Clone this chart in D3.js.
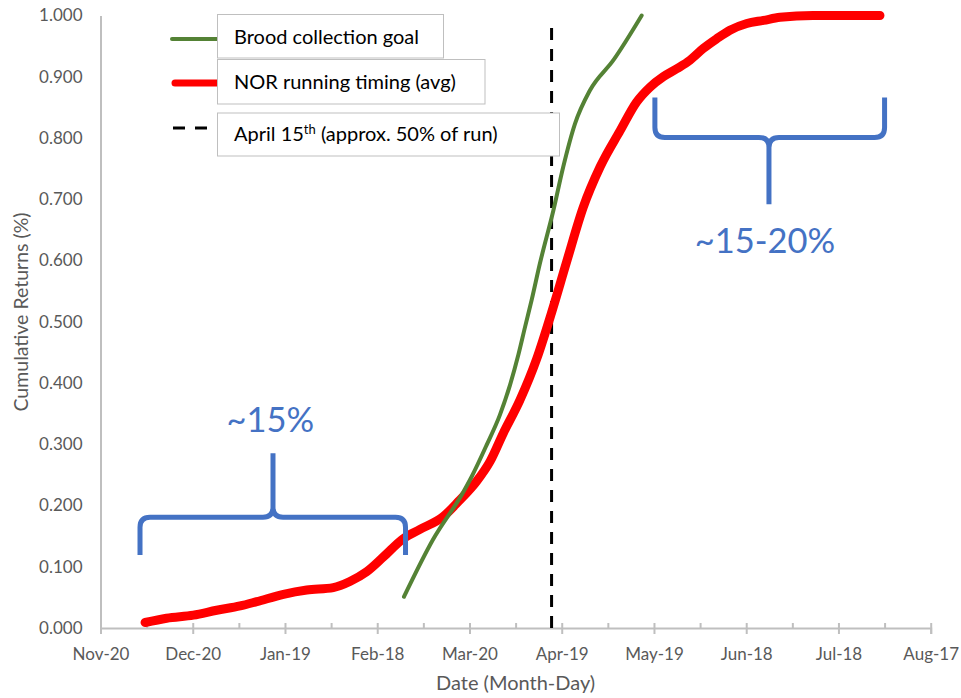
<!DOCTYPE html>
<html>
<head>
<meta charset="utf-8">
<script src="https://cdn.jsdelivr.net/npm/d3@7"></script>
<style>
  body { margin: 0; background: #fff; }
  text { font-family: Lato, "Open Sans", sans-serif; }
</style>
</head>
<body>
<div id="chart"></div>
<script>
// x values are days counted from Nov-20
var tickLabels = ["Nov-20", "Dec-20", "Jan-19", "Feb-18", "Mar-20", "Apr-19", "May-19", "Jun-18", "Jul-18", "Aug-17"];
var tickDays = [0, 30, 60, 90, 120, 150, 180, 210, 240, 270];
var minorDays = [15, 45, 75, 105, 135, 165, 195, 225, 255];
var yTicks = [0, 0.1, 0.2, 0.3, 0.4, 0.5, 0.6, 0.7, 0.8, 0.9, 1.0];

var norDays = [14.5, 21.5, 30.2, 37.8, 45.4, 50.8, 59.5, 67.1, 75.7, 81.1, 86.6, 92.0, 98.5, 103.9, 111.5, 116.5, 122.4, 126.7, 131.0, 136.4, 141.9, 146.7, 151.6, 157.0, 162.5, 169.0, 174.4, 178.7, 183.0, 187.4, 191.7, 196.0, 200.4, 204.7, 210.2, 215.6, 221.0, 231.7, 253.5];
var norValues = [0.009, 0.016, 0.021, 0.029, 0.036, 0.043, 0.055, 0.062, 0.066, 0.076, 0.092, 0.116, 0.146, 0.161, 0.182, 0.207, 0.240, 0.272, 0.318, 0.372, 0.440, 0.515, 0.598, 0.687, 0.753, 0.812, 0.859, 0.883, 0.900, 0.913, 0.927, 0.946, 0.962, 0.976, 0.987, 0.992, 0.997, 1.000, 1.000];

var broodDays = [98.7, 108.1, 118.0, 120.7, 125.6, 129.9, 133.2, 135.9, 138.1, 140.2, 142.9, 147.3, 150.5, 154.3, 159.2, 166.8, 176.0];
var broodValues = [0.051, 0.144, 0.222, 0.247, 0.299, 0.348, 0.397, 0.446, 0.492, 0.535, 0.595, 0.682, 0.753, 0.823, 0.878, 0.927, 1.000];

var aprilDay = 146.7;
var aprilRange = [0, 0.98];

var legendNames = ["Brood collection goal", "NOR running timing (avg)", "April 15"];

// brace annotations: span in days, end / bar / tip heights in returns
var braces = [
    { x0: 12.85, x1: 99.2, xm: 56.1, yEnd: 0.119, yBar: 0.181, yTip: 0.2855, label: "~15%", lx: 55.2, ly: 0.32 },
    { x0: 180.3, x1: 255.0, xm: 217.4, yEnd: 0.866, yBar: 0.801, yTip: 0.692, label: "~15-20%", lx: 216.1, ly: 0.613 }
];

var width = 961, height = 698;

var svg = d3.select("#chart")
    .append("svg")
    .attr("width", width)
    .attr("height", height)
    .style("background", "#fff");

var x = d3.scaleLinear().domain([0, 270]).range([100.5, 930.7]);
var y = d3.scaleLinear().domain([0, 1]).range([628, 15.5]);

var axisColor = "#bfbfbf";
var labelColor = "#595959";

// y axis
var yAxis = svg.append("g")
    .attr("transform", "translate(" + x(0) + ",0)")
    .call(d3.axisLeft(y).tickValues(yTicks).tickFormat(d3.format(".3f")).tickSize(0).tickPadding(18));
yAxis.select(".domain").attr("stroke", axisColor).attr("stroke-width", 2);
yAxis.selectAll("text")
    .attr("fill", labelColor)
    .style("font-size", "17px")
    .style("font-family", "Lato, sans-serif");

// x axis, major + minor ticks
var xAxis = svg.append("g")
    .attr("transform", "translate(0," + y(0) + ")")
    .call(d3.axisBottom(x).tickValues(tickDays).tickFormat(function (d, i) { return tickLabels[i]; }).tickSize(6));
xAxis.select(".domain").attr("stroke", axisColor).attr("stroke-width", 2);
xAxis.selectAll(".tick line").attr("y1", -5).attr("stroke", axisColor).attr("stroke-width", 2);
xAxis.selectAll("text")
    .attr("y", 32)
    .attr("dy", 0)
    .attr("fill", labelColor)
    .style("font-size", "17px")
    .style("font-family", "Lato, sans-serif");

var minorAxis = svg.append("g")
    .attr("transform", "translate(0," + y(0) + ")")
    .call(d3.axisBottom(x).tickValues(minorDays).tickFormat("").tickSize(-5));
minorAxis.select(".domain").remove();
minorAxis.selectAll(".tick line").attr("stroke", axisColor).attr("stroke-width", 2);

// axis titles
svg.append("text")
    .attr("x", (x(0) + x(270)) / 2)
    .attr("y", 690)
    .attr("text-anchor", "middle")
    .attr("fill", labelColor)
    .style("font-size", "20px")
    .text("Date (Month-Day)");

svg.append("text")
    .attr("transform", "translate(28,312) rotate(-90)")
    .attr("text-anchor", "middle")
    .attr("fill", labelColor)
    .style("font-size", "19.5px")
    .text("Cumulative Returns (%)");

// April 15th line
svg.append("line")
    .attr("x1", x(aprilDay)).attr("x2", x(aprilDay))
    .attr("y1", y(aprilRange[0])).attr("y2", y(aprilRange[1]))
    .attr("stroke", "#000")
    .attr("stroke-width", 3)
    .attr("stroke-dasharray", "12,9");

var line = d3.line()
    .x(function (d) { return x(d[0]); })
    .y(function (d) { return y(d[1]); })
    .curve(d3.curveMonotoneX);

svg.append("path")
    .datum(norDays.map(function (d, i) { return [d, norValues[i]]; }))
    .attr("d", line)
    .attr("fill", "none")
    .attr("stroke", "#ff0000")
    .attr("stroke-width", 9)
    .attr("stroke-linecap", "round")
    .attr("stroke-linejoin", "round");

svg.append("path")
    .datum(broodDays.map(function (d, i) { return [d, broodValues[i]]; }))
    .attr("d", line)
    .attr("fill", "none")
    .attr("stroke", "#548235")
    .attr("stroke-width", 4)
    .attr("stroke-linecap", "round");

// braces
var r = 10;
braces.forEach(function (b) {
    var x0 = x(b.x0), x1 = x(b.x1), xm = x(b.xm);
    var ye = y(b.yEnd), yb = y(b.yBar), yt = y(b.yTip);
    var s = ye > yb ? 1 : -1;
    var p = d3.path();
    p.moveTo(x0, ye);
    p.lineTo(x0, yb + s * r);
    p.quadraticCurveTo(x0, yb, x0 + r, yb);
    p.lineTo(xm - r, yb);
    p.quadraticCurveTo(xm, yb, xm, yb - s * r);
    p.lineTo(xm, yt);
    p.moveTo(xm, yb - s * r);
    p.quadraticCurveTo(xm, yb, xm + r, yb);
    p.lineTo(x1 - r, yb);
    p.quadraticCurveTo(x1, yb, x1, yb + s * r);
    p.lineTo(x1, ye);
    svg.append("path")
        .attr("d", p.toString())
        .attr("fill", "none")
        .attr("stroke", "#4472c4")
        .attr("stroke-width", 5);
    svg.append("text")
        .attr("x", x(b.lx))
        .attr("y", y(b.ly))
        .attr("text-anchor", "middle")
        .attr("fill", "#4472c4")
        .style("font-size", "34.5px")
        .text(b.label);
});

// legend
var legendBoxes = [
    { top: 14.5, h: 43.5, w: 226, base: 44 },
    { top: 59.5, h: 44.5, w: 267.5, base: 89 },
    { top: 113, h: 43, w: 342, base: 141 }
];
var legend = svg.append("g");
legend.append("line").attr("x1", 172).attr("x2", 217).attr("y1", 39).attr("y2", 39)
    .attr("stroke", "#548235").attr("stroke-width", 4).attr("stroke-linecap", "round");
legend.append("line").attr("x1", 175).attr("x2", 217).attr("y1", 83).attr("y2", 83)
    .attr("stroke", "#ff0000").attr("stroke-width", 7).attr("stroke-linecap", "round");
legend.append("line").attr("x1", 173).attr("x2", 207).attr("y1", 128).attr("y2", 128)
    .attr("stroke", "#000").attr("stroke-width", 3).attr("stroke-dasharray", "12,10");

legendBoxes.forEach(function (b, i) {
    legend.append("rect")
        .attr("x", 217.5).attr("y", b.top)
        .attr("width", b.w).attr("height", b.h)
        .attr("fill", "#fff")
        .attr("stroke", "#bfbfbf")
        .attr("stroke-width", 1);
    var t = legend.append("text")
        .attr("x", 234).attr("y", b.base)
        .attr("fill", "#000")
        .style("font-size", "20px")
        .text(legendNames[i]);
    if (i == 2) {
        t.append("tspan").attr("dy", -7).style("font-size", "13px").text("th");
        t.append("tspan").attr("dy", 7).text(" (approx. 50% of run)");
    }
});
</script>
</body>
</html>
